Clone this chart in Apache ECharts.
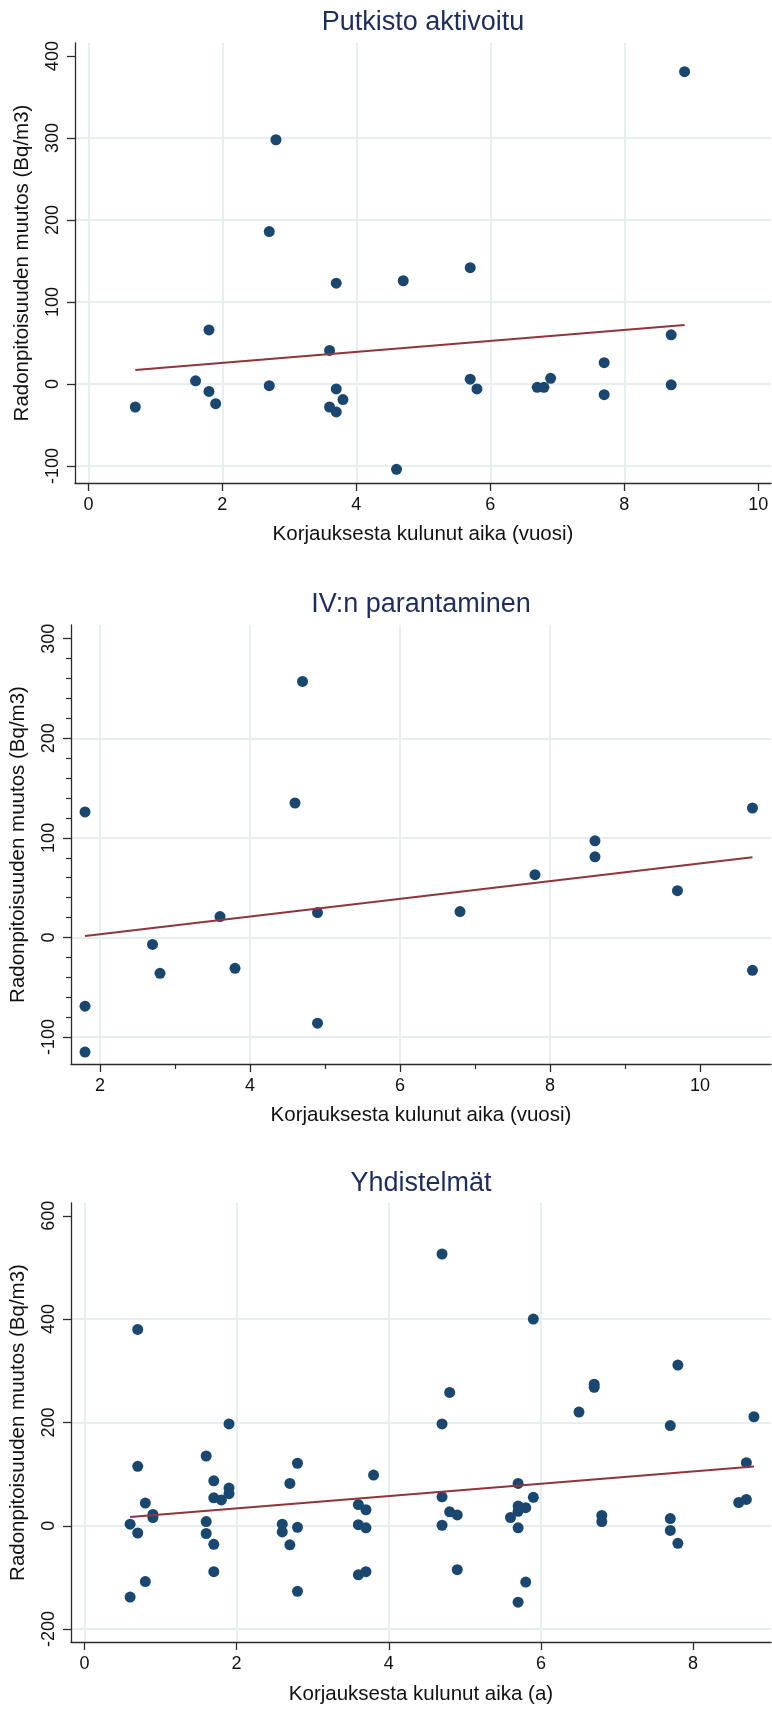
<!DOCTYPE html>
<html><head><meta charset="utf-8">
<script src="https://cdn.jsdelivr.net/npm/echarts@6/dist/echarts.min.js"></script>
<style>html,body{margin:0;padding:0;background:#fff}#c{width:772px;height:1709px}</style>
</head><body><div id="c"></div>
<script>
// ---- texts ----
const titles = ['Putkisto aktivoitu', 'IV:n parantaminen', 'Yhdistelmät'];
const xTitles = ['Korjauksesta kulunut aika (vuosi)', 'Korjauksesta kulunut aika (vuosi)', 'Korjauksesta kulunut aika (a)'];
const yTitle = 'Radonpitoisuuden muutos (Bq/m3)';

// ---- chart 1: Putkisto aktivoitu ----
const x1 = [0.7, 1.6, 1.8, 1.8, 1.9, 2.7, 2.7, 2.8, 3.6, 3.6, 3.7, 3.7, 3.7, 3.8, 4.6, 4.7, 5.7, 5.7, 5.8, 6.7, 6.8, 6.9, 7.7, 7.7, 8.7, 8.7, 8.9];
const y1 = [-28, 4, 66, -9, -24, 186, -2, 298, 41, -28, 123, -6, -34, -19, -104, 126, 142, 6, -6, -4, -4, 7, 26, -13, 60, -1, 381];
const fit1x = [0.7, 8.9];
const fit1y = [17, 72];
const xTicks1 = [0, 2, 4, 6, 8, 10];
const yTicks1 = [-100, 0, 100, 200, 300, 400];

// ---- chart 2: IV:n parantaminen ----
const x2 = [1.8, 1.8, 1.8, 2.7, 2.8, 3.6, 3.8, 4.6, 4.7, 4.9, 4.9, 6.8, 7.8, 8.6, 8.6, 9.7, 10.7, 10.7];
const y2 = [126, -69, -115, -7, -36, 21, -31, 135, 257, 25, -86, 26, 63, 97, 81, 47, 130, -33];
const fit2x = [1.8, 10.7];
const fit2y = [1.5, 80.5];
const xTicks2 = [2, 4, 6, 8, 10];
const yTicks2 = [-100, 0, 100, 200, 300];
const xMinor2 = [3, 5, 7, 9];
const yMinor2 = [-80, -60, -40, -20, 20, 40, 60, 80, 120, 140, 160, 180, 220, 240, 260, 280];

// ---- chart 3: Yhdistelmät ----
const x3 = [0.6, 0.6, 0.7, 0.7, 0.7, 0.8, 0.8, 0.9, 0.9, 1.6, 1.6, 1.6, 1.7, 1.7, 1.7, 1.7, 1.8, 1.9, 1.9, 1.9,
            2.6, 2.6, 2.7, 2.7, 2.8, 2.8, 2.8, 3.6, 3.6, 3.6, 3.7, 3.7, 3.7, 3.8,
            4.7, 4.7, 4.7, 4.7, 4.8, 4.8, 4.9, 4.9, 5.6, 5.7, 5.7, 5.7, 5.7, 5.7, 5.8, 5.8, 5.9, 5.9,
            6.5, 6.7, 6.7, 6.8, 6.8, 7.7, 7.7, 7.7, 7.8, 7.8, 8.6, 8.7, 8.7, 8.8];
const y3 = [3, -138, 380, 115, -14, 44, -108, 22, 16, 135, 8, -15, 87, 54, -36, -89, 50, 197, 73, 62,
            3, -12, 82, -37, 121, -3, -127, 41, 2, -95, 31, -4, -89, 98,
            526, 197, 56, 1, 258, 27, 21, -85, 16, 82, 38, 28, -4, -148, 35, -109, 400, 55,
            220, 274, 268, 20, 8, 194, 14, -9, 311, -34, 45, 122, 51, 211];
const fit3x = [0.6, 8.8];
const fit3y = [17, 114.5];
const xTicks3 = [0, 2, 4, 6, 8];
const yTicks3 = [-200, 0, 200, 400, 600];

// ---- layout / styles ----
const FONT = "'Liberation Sans', Arial, Helvetica, sans-serif";
const NAVY = '#1a476f';
const MAROON = '#90353b';
const GRIDC = '#e6eef0';
const AXC = '#2b2b2b';
const TITLEC = '#1e2d5c';

const panels = [
  {grid: {left: 75, top: 43, width: 696, height: 440}, xr: [-0.2, 10.19], yr: [-120.7, 416],
   xs: x1, ys: y1, fx: fit1x, fy: fit1y, xt: xTicks1, yt: yTicks1, titleY: 23, xTitleY: 534, yTitleX: 22},
  {grid: {left: 71, top: 625, width: 700, height: 439}, xr: [1.613, 10.947], yr: [-127, 313.7],
   xs: x2, ys: y2, fx: fit2x, fy: fit2y, xt: xTicks2, yt: yTicks2, xm: xMinor2, ym: yMinor2, titleY: 605, xTitleY: 1115, yTitleX: 18.5},
  {grid: {left: 71, top: 1203, width: 700, height: 439}, xr: [-0.177, 9.024], yr: [-225, 624.7],
   xs: x3, ys: y3, fx: fit3x, fy: fit3y, xt: xTicks3, yt: yTicks3, titleY: 1184, xTitleY: 1694, yTitleX: 18.5}
];

const option = {animation: false, backgroundColor: '#fff', grid: [], xAxis: [], yAxis: [], series: [], graphic: []};

panels.forEach((p, i) => {
  option.grid.push(Object.assign({containLabel: false}, p.grid));
  const xIdx = option.xAxis.length, yIdx = option.yAxis.length;
  option.xAxis.push({
    type: 'value', gridIndex: i, min: p.xr[0], max: p.xr[1], position: 'bottom',
    axisLine: {show: true, onZero: false, lineStyle: {color: AXC, width: 1.3}},
    axisTick: {show: true, length: 8, customValues: p.xt, lineStyle: {color: AXC, width: 1.3}},
    axisLabel: {customValues: p.xt, margin: 13, fontSize: 18, color: '#111', fontFamily: FONT},
    splitLine: {show: true, showMinLine: true, showMaxLine: false, lineStyle: {color: GRIDC, width: 1.8}}
  });
  option.yAxis.push({
    type: 'value', gridIndex: i, min: p.yr[0], max: p.yr[1], position: 'left',
    axisLine: {show: true, onZero: false, lineStyle: {color: AXC, width: 1.3}},
    axisTick: {show: true, length: 8, customValues: p.yt, lineStyle: {color: AXC, width: 1.3}},
    axisLabel: {customValues: p.yt, rotate: 90, margin: 13, fontSize: 18, color: '#111', fontFamily: FONT},
    splitLine: {show: true, showMinLine: true, showMaxLine: false, lineStyle: {color: GRIDC, width: 1.8}}
  });
  if (p.xm) {
    option.xAxis.push({
      type: 'value', gridIndex: i, min: p.xr[0], max: p.xr[1], position: 'bottom', offset: 0,
      axisLine: {show: false, onZero: false}, axisLabel: {show: false}, splitLine: {show: false},
      axisTick: {show: true, length: 5, customValues: p.xm, lineStyle: {color: AXC, width: 1.2}}
    });
  }
  if (p.ym) {
    option.yAxis.push({
      type: 'value', gridIndex: i, min: p.yr[0], max: p.yr[1], position: 'left', offset: 0,
      axisLine: {show: false, onZero: false}, axisLabel: {show: false}, splitLine: {show: false},
      axisTick: {show: true, length: 5, customValues: p.ym, lineStyle: {color: AXC, width: 1.2}}
    });
  }
  option.series.push({
    type: 'scatter', xAxisIndex: xIdx, yAxisIndex: yIdx,
    data: p.xs.map((v, k) => [v, p.ys[k]]),
    symbol: 'circle', symbolSize: 11, itemStyle: {color: NAVY, opacity: 1}, z: 2
  });
  option.series.push({
    type: 'line', xAxisIndex: xIdx, yAxisIndex: yIdx,
    data: p.fx.map((v, k) => [v, p.fy[k]]),
    showSymbol: false, symbol: 'none', lineStyle: {color: MAROON, width: 2}, z: 3
  });
  const cx = p.grid.left + p.grid.width / 2;
  const cy = p.grid.top + p.grid.height / 2;
  option.graphic.push(
    {type: 'text', x: cx, y: p.titleY, style: {text: titles[i], fill: TITLEC, font: '27px ' + FONT, align: 'center', verticalAlign: 'middle'}},
    {type: 'text', x: cx, y: p.xTitleY, style: {text: xTitles[i], fill: '#111', font: '20.5px ' + FONT, align: 'center', verticalAlign: 'middle'}},
    {type: 'text', x: p.yTitleX, y: cy, rotation: Math.PI / 2, style: {text: yTitle, fill: '#111', font: '20.5px ' + FONT, align: 'center', verticalAlign: 'middle'}}
  );
});

const chart = echarts.init(document.getElementById('c'), null, {renderer: 'canvas'});
chart.setOption(option);
</script>
</body></html>
